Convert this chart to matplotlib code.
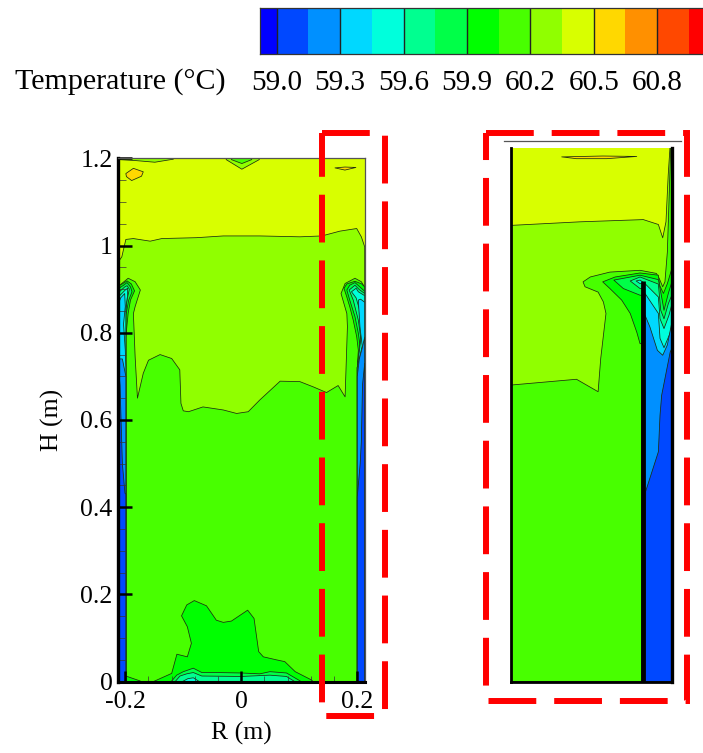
import matplotlib
matplotlib.use("Agg")
import matplotlib.pyplot as plt

plt.rcParams['font.family'] = ['Liberation Serif', 'DejaVu Serif']
W, H = 703, 753

# ---------------- colour scale ----------------
cb_edges = [58.921, 59.0, 59.15, 59.3, 59.45, 59.6, 59.75, 59.9, 60.05, 60.2, 60.35, 60.5, 60.65, 60.8, 60.95, 61.017]
cb_colors = ['#0000ff', '#0048ff', '#0090ff', '#00d8ff', '#00ffdc', '#00ff90', '#00ff48', '#00ff00',
             '#48ff00', '#90ff00', '#d8ff00', '#ffd800', '#ff9000', '#ff4800', '#ff0000']
cb_ticks = [59.0, 59.3, 59.6, 59.9, 60.2, 60.5, 60.8]
cb_labels = ['59.0', '59.3', '59.6', '59.9', '60.2', '60.5', '60.8']
C = dict(b1='#0048ff', b2='#0090ff', c1='#00d8ff', c2='#00ffdc', g1='#00ff90', g2='#00ff48', g3='#00ff00',
         g4='#48ff00', g5='#90ff00', y1='#d8ff00', o1='#ffd800')

# ---------------- left panel regions (R m, H m) ----------------
L_EDGE, R_EDGE = -0.2134, 0.2128
left_bg = [(L_EDGE, 0), (R_EDGE, 0), (R_EDGE, 1.2), (L_EDGE, 1.2)]
left_g5 = [(L_EDGE, 0), (L_EDGE, 0.96), (-0.206, 0.974), (-0.199, 1.014), (-0.186, 1.016), (-0.157, 1.010), (-0.137, 1.016),
           (-0.077, 1.018), (-0.031, 1.022), (0.032, 1.022), (0.101, 1.020), (0.139, 1.022), (0.170, 1.033),
           (0.199, 1.039), (0.207, 1.020), (0.2128, 0.997), (R_EDGE, 0)]
left_g5_top = [(-0.212, 1.21), (-0.212, 1.197), (-0.184, 1.195), (-0.149, 1.191), (-0.117, 1.198), (-0.117, 1.21)]
left_g5_dip = [(-0.026, 1.21), (-0.026, 1.197), (0.001, 1.175), (0.031, 1.197), (0.031, 1.21)]
left_g4_dip = [(-0.017, 1.21), (-0.017, 1.197), (0.001, 1.188), (0.018, 1.197), (0.018, 1.21)]
left_o1_spot = [(-0.199, 1.165), (-0.186, 1.177), (-0.169, 1.169), (-0.172, 1.159), (-0.189, 1.149), (-0.198, 1.158)]
left_o1_lens = [(0.1615, 1.178), (0.1787, 1.18), (0.1977, 1.179), (0.1787, 1.173)]
left_g4 = [(L_EDGE, 0), (L_EDGE, 0.90), (-0.206, 0.913), (-0.195, 0.925), (-0.183, 0.917), (-0.174, 0.898), (-0.183, 0.860),
           (-0.186, 0.844), (-0.183, 0.745), (-0.179, 0.650), (-0.169, 0.707), (-0.160, 0.737), (-0.140, 0.750),
           (-0.120, 0.741), (-0.106, 0.715), (-0.104, 0.638), (-0.100, 0.621), (-0.091, 0.619), (-0.066, 0.630),
           (-0.031, 0.623), (-0.008, 0.615), (0.012, 0.619), (0.032, 0.646), (0.067, 0.689), (0.101, 0.688),
           (0.124, 0.676), (0.147, 0.663), (0.167, 0.679), (0.179, 0.653), (0.183, 0.814), (0.182, 0.844),
           (0.172, 0.890), (0.179, 0.913), (0.196, 0.925), (0.207, 0.917), (0.212, 0.906), (R_EDGE, 0)]
left_g3_l = [(L_EDGE, 0), (L_EDGE, 0.906), (-0.204, 0.913), (-0.197, 0.919), (-0.1896, 0.912), (-0.184, 0.896), (-0.191, 0.875),
             (-0.195, 0.845), (-0.199, 0.791), (-0.199, 0)]
left_g3_r = [(0.177, 0.902), (0.182, 0.912), (0.196, 0.918), (0.2076, 0.912), (R_EDGE, 0.905), (R_EDGE, 0), (0.2, 0),
             (0.2, 0.72), (0.2018, 0.76), (0.199, 0.791), (0.193, 0.829), (0.187, 0.860), (0.181, 0.886)]
left_g3_blob = [(-0.152, 0), (-0.120, 0.019), (-0.111, 0.063), (-0.093, 0.057), (-0.086, 0.088), (-0.093, 0.126),
                (-0.103, 0.151), (-0.094, 0.176), (-0.081, 0.186), (-0.060, 0.174), (-0.043, 0.141), (-0.031, 0.136),
                (-0.017, 0.139), (0.011, 0.164), (0.022, 0.145), (0.030, 0.069), (0.038, 0.057), (0.061, 0.05),
                (0.075, 0.046), (0.093, 0.023), (0.121, 0.004), (0.124, 0)]
left_g3_corner = [(-0.199, 0.013), (-0.175, 0.002), (-0.172, 0), (-0.199, 0)]
left_g2_l = [(L_EDGE, 0), (L_EDGE, 0.9), (-0.2028, 0.909), (-0.197, 0.915), (-0.191, 0.905), (-0.1884, 0.894), (-0.194, 0.875),
             (-0.199, 0.84), (-0.199, 0)]
left_g2_r = [(0.182, 0.898), (0.187, 0.909), (0.196, 0.915), (0.2046, 0.905), (R_EDGE, 0.895), (R_EDGE, 0), (0.2, 0),
             (0.2, 0.72), (0.2046, 0.74), (0.2057, 0.76), (0.2018, 0.799), (0.196, 0.837), (0.187, 0.875)]
left_g2_bot = [(-0.121, 0), (-0.1114, 0.015), (-0.0999, 0.023), (-0.0827, 0.031), (-0.068, 0.021), (-0.0425, 0.021),
               (0, 0.020), (0.032, 0.018), (0.0494, 0.023), (0.078, 0.020), (0.1012, 0.002), (0.103, 0)]
left_g1_l = [(L_EDGE, 0), (L_EDGE, 0.89), (-0.201, 0.905), (-0.197, 0.908), (-0.193, 0.9), (-0.197, 0.875), (-0.199, 0.85), (-0.199, 0)]
left_g1_r = [(0.186, 0.898), (0.196, 0.909), (0.2034, 0.899), (R_EDGE, 0.89), (R_EDGE, 0), (0.2, 0), (0.2, 0.72),
             (0.2057, 0.791), (0.2018, 0.829), (0.193, 0.875)]
left_g1_bot = [(-0.1142, 0), (-0.1057, 0.013), (-0.0942, 0.018), (-0.0827, 0.021), (-0.068, 0.013), (0, 0.012),
               (0.0494, 0.015), (0.078, 0.012), (0.0925, 0)]
left_c2_l = [(L_EDGE, 0), (L_EDGE, 0.88), (-0.2, 0.898), (-0.196, 0.902), (-0.196, 0.885), (-0.199, 0.86), (-0.199, 0)]
left_c2_r = [(0.190, 0.894), (0.198, 0.902), (0.2018, 0.894), (R_EDGE, 0.885), (R_EDGE, 0), (0.2, 0), (0.2, 0.72),
             (0.2076, 0.80), (0.2034, 0.855), (0.198, 0.88)]
left_c2_bot = [(-0.102, 0), (-0.092, 0.007), (-0.0827, 0.009), (-0.072, 0)]
left_c1_l = [(L_EDGE, 0), (L_EDGE, 0.86), (-0.208, 0.88), (-0.201, 0.89), (-0.2, 0.86), (-0.203, 0.82), (-0.2, 0.76), (-0.199, 0.72), (-0.199, 0)]
left_c1_r = [(0.2018, 0.875), (0.2057, 0.877), (R_EDGE, 0.87), (R_EDGE, 0), (0.2, 0), (0.2, 0.72), (0.2085, 0.77), (0.2046, 0.814)]
left_b2_l = [(L_EDGE, 0), (L_EDGE, 0.74), (-0.205, 0.74), (-0.199, 0.70), (-0.199, 0)]
left_b2_r = [(0.2, 0), (R_EDGE, 0), (R_EDGE, 0.79), (0.2085, 0.765), (0.2035, 0.74), (0.2, 0.70)]
left_b1_l = [(L_EDGE, 0), (-0.199, 0), (-0.199, 0.43), (-0.2005, 0.432), (-0.205, 0.5), (-0.209, 0.68), (L_EDGE, 0.74)]
left_b1_r = [(0.2, 0), (R_EDGE, 0), (R_EDGE, 0.73), (0.209, 0.68), (0.207, 0.55), (0.205, 0.50), (0.2, 0.424)]

left_layers = [('y1', left_bg), ('g5', left_g5), ('g5', left_g5_top), ('g5', left_g5_dip), ('g4', left_g4_dip),
               ('o1', left_o1_spot), ('o1', left_o1_lens), ('g4', left_g4),
               ('g3', left_g3_l), ('g3', left_g3_r), ('g3', left_g3_blob), ('g3', left_g3_corner),
               ('g2', left_g2_l), ('g2', left_g2_r), ('g2', left_g2_bot),
               ('g1', left_g1_l), ('g1', left_g1_r), ('g1', left_g1_bot),
               ('c2', left_c2_l), ('c2', left_c2_r), ('c2', left_c2_bot),
               ('c1', left_c1_l), ('c1', left_c1_r),
               ('b2', left_b2_l), ('b2', left_b2_r), ('b1', left_b1_l), ('b1', left_b1_r)]

# ---------------- right panel regions (R m, H m, stretched) ----------------
E = 0.2458
right_bg = [(0, 0), (E, 0), (E, 1.203), (0, 1.203)]
right_lens = [(0.0774, 1.180), (0.14, 1.182), (0.192, 1.181), (0.146, 1.176), (0.100, 1.176)]
right_g5 = [(0, 0), (0, 1.026), (0.105, 1.034), (0.202, 1.039), (0.225, 1.028), (0.2316, 0.998), (0.2366, 1.034),
            (0.240, 1.139), (0.2428, 1.203), (E, 1.203), (E, 0)]
right_g4 = [(0, 0), (0, 0.667), (0.100, 0.680), (0.133, 0.652), (0.137, 0.727), (0.145, 0.828), (0.141, 0.854),
            (0.133, 0.876), (0.113, 0.888), (0.110, 0.899), (0.121, 0.910), (0.151, 0.921), (0.197, 0.925),
            (0.222, 0.918), (0.2265, 0.906), (0.2316, 0.888), (0.235, 0.899), (0.2387, 0.966), (0.2417, 1.101),
            (0.2438, 1.203), (E, 1.203), (E, 0)]
right_g3 = [(0.140, 0.899), (0.159, 0.910), (0.197, 0.919), (0.225, 0.914), (0.227, 0.891), (0.2327, 0.873),
            (0.2387, 0.895), (E, 0.93), (E, 0), (0.2, 0), (0.2, 0.76), (0.197, 0.760), (0.192, 0.786), (0.182, 0.828),
            (0.169, 0.858), (0.151, 0.884)]
right_g2 = [(0.157, 0.903), (0.197, 0.914), (0.225, 0.904), (0.230, 0.865), (0.2336, 0.835), (0.2402, 0.873),
            (E, 0.90), (E, 0), (0.2, 0), (0.2, 0.869), (0.197, 0.869), (0.1715, 0.884)]
right_g1 = [(0.182, 0.901), (0.197, 0.910), (0.225, 0.894), (0.2286, 0.835), (0.2336, 0.816), (0.2402, 0.85),
            (E, 0.87), (E, 0), (0.2, 0), (0.2, 0.884), (0.197, 0.884)]
right_c2 = [(0.191, 0.901), (0.197, 0.903), (0.2046, 0.895), (0.225, 0.865), (0.2275, 0.816), (0.2336, 0.794),
            (0.2412, 0.824), (E, 0.85), (E, 0), (0.2, 0), (0.2, 0.895), (0.197, 0.895)]
right_c1 = [(0.2046, 0.873), (0.225, 0.828), (0.2275, 0.772), (0.2336, 0.751), (0.2427, 0.783), (E, 0.80), (E, 0), (0.2046, 0)]
right_b2 = [(0.2046, 0.824), (0.212, 0.798), (0.2235, 0.745), (0.2316, 0.734), (0.2387, 0.757), (E, 0.81), (E, 0), (0.2046, 0)]
right_b1 = [(0.2046, 0), (E, 0), (E, 0.75), (0.243, 0.741), (0.230, 0.644), (0.2275, 0.599), (0.225, 0.517), (0.2056, 0.428)]
right_layers = [('y1', right_bg), ('o1', right_lens), ('g5', right_g5), ('g4', right_g4), ('g3', right_g3), ('g2', right_g2),
                ('g1', right_g1), ('c2', right_c2), ('c1', right_c1), ('b2', right_b2), ('b1', right_b1)]
baffle_R = [0.201, 0.201]
baffle_H = [0, 0.901]

# ---------------- ticks and dashed frames ----------------
r_major = [-0.2, 0, 0.2]
r_major_labels = ['-0.2', '0', '0.2']
r_minor = [-0.16, -0.12, -0.08, -0.04, 0.04, 0.08, 0.12, 0.16]
h_major = [0, 0.2, 0.4, 0.6, 0.8, 1.0, 1.2]
h_major_labels = ['0', '0.2', '0.4', '0.6', '0.8', '1', '1.2']
h_minor = [0.05, 0.1, 0.15, 0.25, 0.3, 0.35, 0.45, 0.5, 0.55, 0.65, 0.7, 0.75, 0.85, 0.9, 0.95, 1.05, 1.1, 1.15]
frame_left_R = [0.139, 0.248, 0.248, 0.139, 0.139]
frame_left_H = [1.258, 1.258, -0.0786, -0.0786, 1.258]
frame_right_R = [-0.0385, 0.2687, 0.2687, -0.0385, -0.0385]
frame_right_H = [1.233, 1.233, -0.043, -0.043, 1.233]
RED = '#ff0000'
LINE = '#1c2c10'


def box(l, t, r, b):
    return [l / W, 1 - b / H, (r - l) / W, (b - t) / H]


def paint(ax, layers):
    for key, poly in layers:
        xs, ys = zip(*poly)
        ax.fill(xs, ys, facecolor=C[key], edgecolor=LINE, linewidth=0.55, joinstyle='round')


def red_frame(ax, xs, ys):
    ax.plot(xs, ys, color=RED, lw=4.3, clip_on=False, zorder=10,
            dashes=(8, 3), dash_capstyle='butt', dash_joinstyle='miter')


fig = plt.figure(figsize=(W / 100, H / 100), dpi=100, facecolor='white')

# colour bar
cax = fig.add_axes(box(260, 7.5, 703, 54))
cax.bar(cb_edges[:-1], [1] * len(cb_colors), width=[b - a for a, b in zip(cb_edges[:-1], cb_edges[1:])],
        align='edge', color=cb_colors, linewidth=0)
cax.vlines(cb_ticks, 0, 1, color='#222222', lw=1.0)
cax.set_xlim(cb_edges[0], cb_edges[-1])
cax.set_ylim(0, 1)
cax.set_yticks([])
cax.set_xticks(cb_ticks, cb_labels, fontsize=21)
cax.tick_params(axis='x', length=0, pad=11.5)
for s in cax.spines.values():
    s.set_color('#333333')
    s.set_linewidth(0.9)
cax.spines['right'].set_visible(False)
fig.text(15 / W, 1 - 82 / H, 'Temperature (°C)', fontsize=21.6, ha='left', va='center')

# left panel
ax = fig.add_axes(box(117.5, 158.3, 364.7, 681.7))
paint(ax, left_layers)
ax.set_xlim(L_EDGE, R_EDGE)
ax.set_ylim(0, 1.2)
ax.set_xticks(r_major, r_major_labels, fontsize=18.5)
ax.set_yticks(h_major, h_major_labels, fontsize=18.5)
ax.set_xticks(r_minor, minor=True)
ax.set_yticks(h_minor, minor=True)
ax.tick_params(axis='x', which='major', direction='in', length=8, width=1.8, pad=7)
ax.tick_params(axis='y', which='major', direction='in', length=10, width=1.8, pad=3.5)
ax.tick_params(axis='x', which='minor', direction='in', length=4.5, width=0.5, color='#333333')
ax.tick_params(axis='y', which='minor', direction='in', length=5.5, width=0.5, color='#333333')
ax.spines['left'].set_linewidth(2.4)
ax.spines['bottom'].set_linewidth(2.2)
for k in ('top', 'right'):
    ax.spines[k].set_linewidth(0.9)
    ax.spines[k].set_color('#555555')
ax.set_xlabel('R (m)', fontsize=18.5, labelpad=6)
ax.set_ylabel('H (m)', fontsize=18.5, labelpad=12)
red_frame(ax, frame_left_R, frame_left_H)

# right panel
bx = fig.add_axes(box(511, 148, 672, 681.7))
paint(bx, right_layers)
bx.plot(baffle_R, baffle_H, color='black', lw=3.4, solid_capstyle='butt')
bx.set_xlim(0, E)
bx.set_ylim(0, 1.2)
bx.set_xticks([])
bx.set_yticks([])
bx.spines['top'].set_visible(False)
bx.spines['left'].set_linewidth(2.0)
bx.spines['bottom'].set_linewidth(2.0)
bx.spines['right'].set_linewidth(2.4)
bx.plot([-0.0107, 0.2595], [1.215, 1.215], color='#555555', lw=0.9, clip_on=False)
red_frame(bx, frame_right_R, frame_right_H)

fig.savefig('out.png', dpi=100)
